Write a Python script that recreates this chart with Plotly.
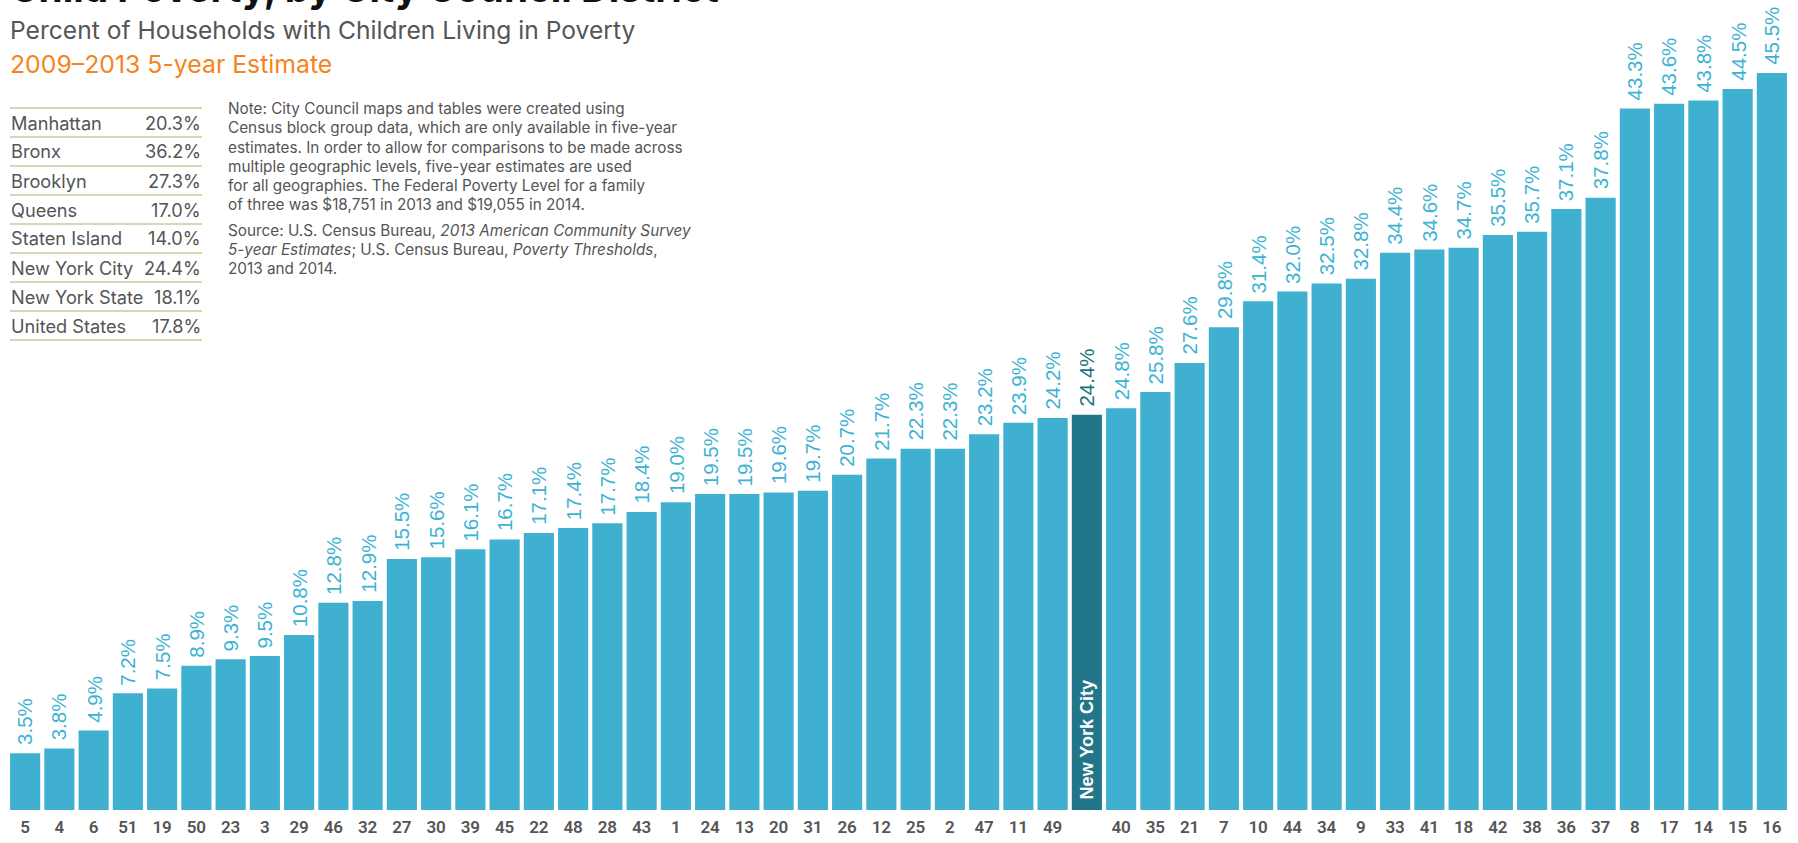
import plotly.graph_objects as go

# council districts, sorted by rate; the city-wide bar sits among them
districts = ["5", "4", "6", "51", "19", "50", "23", "3", "29", "46",
             "32", "27", "30", "39", "45", "22", "48", "28", "43", "1",
             "24", "13", "20", "31", "26", "12", "25", "2", "47", "11",
             "49", "New York City", "40", "35", "21", "7", "10", "44", "34", "9",
             "33", "41", "18", "42", "38", "36", "37", "8", "17", "14",
             "15", "16"]
poverty_pct = [3.5, 3.8, 4.9, 7.2, 7.5, 8.9, 9.3, 9.5, 10.8, 12.8,
               12.9, 15.5, 15.6, 16.1, 16.7, 17.1, 17.4, 17.7, 18.4, 19.0,
               19.5, 19.5, 19.6, 19.7, 20.7, 21.7, 22.3, 22.3, 23.2, 23.9,
               24.2, 24.4, 24.8, 25.8, 27.6, 29.8, 31.4, 32.0, 32.5, 32.8,
               34.4, 34.6, 34.7, 35.5, 35.7, 37.1, 37.8, 43.3, 43.6, 43.8,
               44.5, 45.5]

table_labels = ["Manhattan", "Bronx", "Brooklyn", "Queens", "Staten Island",
                "New York City", "New York State", "United States"]
table_values = ["20.3%", "36.2%", "27.3%", "17.0%", "14.0%", "24.4%", "18.1%", "17.8%"]

note_lines = ["Note: City Council maps and tables were created using",
              "Census block group data, which are only available in five-year",
              "estimates. In order to allow for comparisons to be made across",
              "multiple geographic levels, five-year estimates are used",
              "for all geographies. The Federal Poverty Level for a family",
              "of three was $18,751 in 2013 and $19,055 in 2014."]
source_lines = ["Source: U.S. Census Bureau, <i>2013 American Community Survey</i>",
                "<i>5-year Estimates</i>; U.S. Census Bureau, <i>Poverty Thresholds</i>,",
                "2013 and 2014."]

CITY = "New York City"
BAR = "#3fb0d0"
CITY_BAR = "#22768a"
GREY = "#555555"
TXT = "Inter"

W, H = 1798, 843
ML, MR, MT, MB = 8, 9, 0, 33

def px_x(p):
    return (p - ML) / (W - ML - MR)

def px_y(p):
    return (H - MB - p) / (H - MT - MB)

colors = [CITY_BAR if d == CITY else BAR for d in districts]
ticktext = ["" if d == CITY else d for d in districts]
city_idx = districts.index(CITY)

fig = go.Figure(go.Bar(x=list(range(len(districts))), y=poverty_pct, marker_color=colors,
                       marker_line_width=0, hovertext=districts, hoverinfo="text+y"))

annotations = []
for i, (d, v) in enumerate(zip(districts, poverty_pct)):
    annotations.append(dict(x=i, y=v, text=f"{v:.1f}%", showarrow=False, textangle=-90,
                            xanchor="center", yanchor="bottom", yshift=6,
                            font=dict(family="Liberation Sans", size=20.5,
                                      color="#236f80" if d == CITY else "#3db3d3")))
annotations.append(dict(x=city_idx, y=0, text="<b>New York City</b>", showarrow=False,
                        textangle=-90, xanchor="center", yanchor="bottom", yshift=9,
                        font=dict(family="Liberation Sans", size=18, color="white")))

# titles
annotations.append(dict(xref="paper", yref="paper", x=px_x(8), y=px_y(13), xanchor="left",
                        yanchor="bottom", showarrow=False,
                        text="<b>Child Poverty, by City Council District</b>",
                        font=dict(family=TXT, size=38.7, color="#111111")))
annotations.append(dict(xref="paper", yref="paper", x=px_x(8), y=px_y(30), xanchor="left",
                        yanchor="middle", showarrow=False,
                        text="Percent of Households with Children Living in Poverty",
                        font=dict(family=TXT, size=24.6, color=GREY)))
annotations.append(dict(xref="paper", yref="paper", x=px_x(8), y=px_y(64), xanchor="left",
                        yanchor="middle", showarrow=False,
                        text="2009–2013 5-year Estimate",
                        font=dict(family=TXT, size=24.8, color="#f5841f")))

# borough table
shapes = []
row_h = 29.0
top = 108
for i, (lab, val) in enumerate(zip(table_labels, table_values)):
    yc = top + row_h * (i + 0.5)
    annotations.append(dict(xref="paper", yref="paper", x=px_x(9), y=px_y(yc), xanchor="left",
                            yanchor="middle", showarrow=False, text=lab,
                            font=dict(family=TXT, size=18.2, color=GREY)))
    annotations.append(dict(xref="paper", yref="paper", x=px_x(203), y=px_y(yc), xanchor="right",
                            yanchor="middle", showarrow=False, text=val,
                            font=dict(family=TXT, size=18.2, color=GREY)))
for i in range(len(table_labels) + 1):
    yl = px_y(top + row_h * i)
    shapes.append(dict(type="line", xref="paper", yref="paper", x0=px_x(10), x1=px_x(202),
                       y0=yl, y1=yl, line=dict(color="#cdc79f", width=1.5)))

# note and source, one annotation per line
for start, lines in ((109, note_lines), (230.5, source_lines)):
    for j, line in enumerate(lines):
        annotations.append(dict(xref="paper", yref="paper", x=px_x(226), y=px_y(start + 19 * j),
                                xanchor="left", yanchor="middle", showarrow=False, text=line,
                                font=dict(family=TXT, size=15.3, color=GREY)))

fig.update_layout(
    width=W, height=H,
    margin=dict(l=ML, r=MR, t=MT, b=MB),
    plot_bgcolor="white", paper_bgcolor="white",
    bargap=0.12, showlegend=False,
    annotations=annotations, shapes=shapes,
    xaxis=dict(tickmode="array", tickvals=list(range(len(districts))), ticktext=ticktext,
               range=[-0.5, len(districts) - 0.5], ticks="", ticklabelstandoff=5,
               showgrid=False, zeroline=False, showline=False,
               tickfont=dict(family="Roboto", size=17, weight=600, color=GREY)),
    yaxis=dict(range=[0, 50], visible=False, showgrid=False, zeroline=False),
)

# drop the page's default body margin so the figure fills the window exactly
fig.write_html("out.html", config={"displayModeBar": False},
               post_script="document.body.style.margin='0';")
